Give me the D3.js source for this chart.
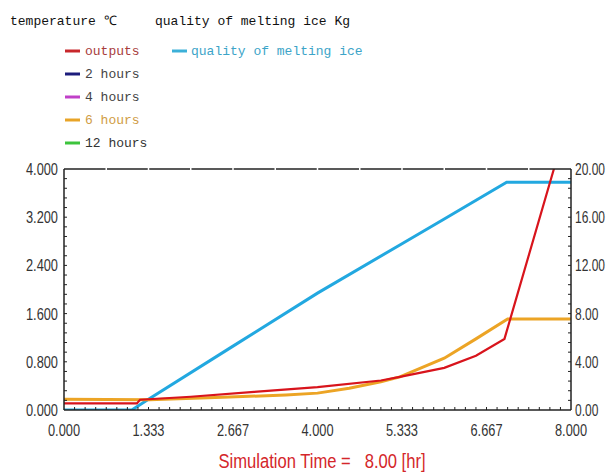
<!DOCTYPE html>
<html>
<head>
<meta charset="utf-8">
<script src="https://cdn.jsdelivr.net/npm/d3@7"></script>
<style>
  body { margin: 0; background: #fff; }
  svg { display: block; }
  .tick-label { font-family: "Liberation Sans", Arial, sans-serif; font-size: 16px; fill: #333; }
  .legend-text { font-family: "Liberation Mono", "DejaVu Sans Mono", monospace; font-size: 13px; }
</style>
</head>
<body>
<div id="chart"></div>
<script>
// time in hours
const outputsTime = [0, 1.15, 1.2, 2.0, 3.0, 4.0, 5.0, 5.3, 6.0, 6.5, 6.95, 7.73, 7.8];
const outputsTemp = [0.11, 0.11, 0.17, 0.22, 0.30, 0.38, 0.49, 0.55, 0.70, 0.90, 1.18, 4.0, 4.3];

const sixHoursTime = [0, 1.35, 2.5, 3.5, 4.0, 4.5, 5.0, 5.3, 6.0, 6.5, 7.0, 8.0];
const sixHoursTemp = [0.18, 0.17, 0.21, 0.25, 0.28, 0.36, 0.47, 0.55, 0.86, 1.18, 1.51, 1.51];

const iceTime = [0, 1.07, 1.333, 2.667, 4.0, 5.333, 6.0, 6.985, 8.0];
const iceMass = [0, 0, 0.9, 5.3, 9.7, 13.8, 15.85, 18.9, 18.9];

const xTicks = [0, 1.333, 2.667, 4.0, 5.333, 6.667, 8.0];
const xTickLabels = ["0.000", "1.333", "2.667", "4.000", "5.333", "6.667", "8.000"];
const leftTicks = [0, 0.8, 1.6, 2.4, 3.2, 4.0];
const rightTicks = [0, 4, 8, 12, 16, 20];

const legendItems = [
  { name: "outputs", line: "#c8282c", text: "#a83c3c" },
  { name: "2 hours", line: "#1c1c7c", text: "#444" },
  { name: "4 hours", line: "#c040c8", text: "#444" },
  { name: "6 hours", line: "#e8a428", text: "#d09c44" },
  { name: "12 hours", line: "#3cc43c", text: "#333" }
];

const width = 611, height = 473;
const margin = { top: 169, right: 40, bottom: 63, left: 64 };
const squeeze = 0.8;

// condense a text by shrinking its glyphs horizontally
function condense(sel, k) {
  sel.each(function () {
    const w = this.getComputedTextLength();
    d3.select(this)
      .attr("textLength", w * k)
      .attr("lengthAdjust", "spacingAndGlyphs");
  });
}

const svg = d3.select("#chart").append("svg")
  .attr("width", width)
  .attr("height", height);

// legend
svg.append("text").attr("class", "legend-text")
  .attr("x", 10).attr("y", 25).attr("fill", "#111")
  .text("temperature ℃");
svg.append("text").attr("class", "legend-text")
  .attr("x", 155).attr("y", 25).attr("fill", "#111")
  .text("quality of melting ice Kg");

const leg = svg.selectAll(".leg")
  .data(legendItems)
  .join("g")
  .attr("class", "leg")
  .attr("transform", (d, i) => `translate(65,${51 + i * 23})`);
leg.append("line")
  .attr("x1", 0).attr("x2", 15)
  .attr("stroke", (d) => d.line)
  .attr("stroke-width", 3);
leg.append("text").attr("class", "legend-text")
  .attr("x", 20).attr("y", 4)
  .attr("fill", (d) => d.text)
  .text((d) => d.name);

const iceLeg = svg.append("g").attr("transform", "translate(172,51)");
iceLeg.append("line").attr("x1", 0).attr("x2", 15)
  .attr("stroke", "#3cb0d8").attr("stroke-width", 3);
iceLeg.append("text").attr("class", "legend-text")
  .attr("x", 19).attr("y", 4).attr("fill", "#3ca4c8")
  .text("quality of melting ice");

// scales in page coordinates
const plotLeft = margin.left, plotRight = width - margin.right;
const plotTop = margin.top, plotBottom = height - margin.bottom;
const x = d3.scaleLinear().domain([0, 8]).range([plotLeft, plotRight]);
const yLeft = d3.scaleLinear().domain([0, 4]).range([plotBottom, plotTop]);
const yRight = d3.scaleLinear().domain([0, 20]).range([plotBottom, plotTop]);

svg.append("clipPath").attr("id", "clip")
  .append("rect")
  .attr("x", plotLeft).attr("y", plotTop)
  .attr("width", plotRight - plotLeft).attr("height", plotBottom - plotTop);

const lines = svg.append("g").attr("clip-path", "url(#clip)");

const tempLine = d3.line().x((d) => x(d[0])).y((d) => yLeft(d[1]));
const iceLine = d3.line().x((d) => x(d[0])).y((d) => yRight(d[1]));

lines.append("path")
  .datum(iceTime.map((t, i) => [t, iceMass[i]]))
  .attr("d", iceLine)
  .attr("fill", "none")
  .attr("stroke", "#22a8e0")
  .attr("stroke-width", 3);

lines.append("path")
  .datum(sixHoursTime.map((t, i) => [t, sixHoursTemp[i]]))
  .attr("d", tempLine)
  .attr("fill", "none")
  .attr("stroke", "#eca425")
  .attr("stroke-width", 3);

lines.append("path")
  .datum(outputsTime.map((t, i) => [t, outputsTemp[i]]))
  .attr("d", tempLine)
  .attr("fill", "none")
  .attr("stroke", "#d8141c")
  .attr("stroke-width", 2.2);

// frame
const frame = svg.append("g").attr("stroke", "#222").attr("stroke-width", 1.5);
frame.append("line").attr("x1", plotLeft).attr("x2", plotLeft).attr("y1", plotTop).attr("y2", plotBottom);
frame.append("line").attr("x1", plotRight).attr("x2", plotRight).attr("y1", plotTop).attr("y2", plotBottom);
frame.append("line").attr("x1", plotLeft).attr("x2", plotRight).attr("y1", plotBottom).attr("y2", plotBottom);
frame.append("line").attr("x1", plotLeft).attr("x2", plotRight).attr("y1", plotTop).attr("y2", plotTop);

// small gaps in the top border
svg.selectAll(".top-gap")
  .data(d3.range(1, 12).map((i) => i * 8 / 12))
  .join("rect")
  .attr("class", "top-gap")
  .attr("x", (d) => x(d) - 0.75)
  .attr("y", plotTop - 1.5)
  .attr("width", 1.5)
  .attr("height", 3)
  .attr("fill", "#fff");

// minor ticks
const tickG = svg.append("g").attr("stroke", "#222").attr("stroke-width", 1);
tickG.selectAll(".xm")
  .data(d3.range(1, 48).map((i) => i * 8 / 48))
  .join("line")
  .attr("x1", (d) => x(d)).attr("x2", (d) => x(d))
  .attr("y1", plotBottom).attr("y2", plotBottom - 3);
tickG.selectAll(".ylm")
  .data(d3.range(1, 25).map((i) => i * 4 / 25))
  .join("line")
  .attr("x1", plotLeft).attr("x2", plotLeft + 3)
  .attr("y1", (d) => yLeft(d)).attr("y2", (d) => yLeft(d));
tickG.selectAll(".yrm")
  .data(d3.range(1, 25).map((i) => i * 20 / 25))
  .join("line")
  .attr("x1", plotRight).attr("x2", plotRight - 3)
  .attr("y1", (d) => yRight(d)).attr("y2", (d) => yRight(d));

// tick labels (condensed)
svg.selectAll(".xl")
  .data(xTicks)
  .join("text")
  .attr("class", "tick-label xl")
  .attr("x", (d) => x(d))
  .attr("y", plotBottom + 26)
  .attr("text-anchor", "middle")
  .text((d, i) => xTickLabels[i])
  .call(condense, squeeze);

svg.selectAll(".yl")
  .data(leftTicks)
  .join("text")
  .attr("class", "tick-label yl")
  .attr("x", plotLeft - 6)
  .attr("y", (d) => yLeft(d) + 6)
  .attr("text-anchor", "end")
  .text((d) => d3.format(".3f")(d))
  .call(condense, squeeze);

svg.selectAll(".yr")
  .data(rightTicks)
  .join("text")
  .attr("class", "tick-label yr")
  .attr("x", plotRight + 4)
  .attr("y", (d) => yRight(d) + 6)
  .text((d) => d3.format(".2f")(d))
  .call(condense, 0.75);

svg.append("text")
  .attr("x", 322)
  .attr("y", 468)
  .attr("text-anchor", "middle")
  .attr("fill", "#d4262a")
  .style("font-family", "\"Liberation Sans\", Arial, sans-serif")
  .style("font-size", "20px")
  .text("Simulation Time =\u00a0\u00a0 8.00 [hr]")
  .call(condense, 0.83);
</script>
</body>
</html>
